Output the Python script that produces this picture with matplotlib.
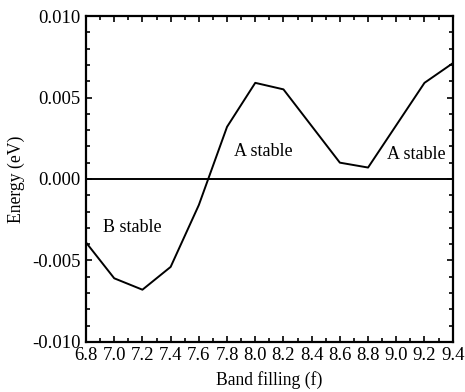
import matplotlib
matplotlib.use("Agg")
import matplotlib.pyplot as plt
from matplotlib.ticker import MultipleLocator, FormatStrFormatter

plt.rcParams['font.family'] = ['Liberation Serif', 'DejaVu Serif']

# band filling vs energy difference
filling = [6.8, 7.0, 7.2, 7.4, 7.6, 7.8, 8.0, 8.2, 8.6, 8.8, 9.2, 9.4]
energy = [-0.0039, -0.0061, -0.0068, -0.0054, -0.0016, 0.0032,
          0.0059, 0.0055, 0.0010, 0.0007, 0.0059, 0.0071]

labels = ["B stable", "A stable", "A stable"]
label_x = [7.13, 8.06, 9.14]
label_y = [-0.0030, 0.0017, 0.0015]

fig = plt.figure(figsize=(4.65, 3.92), dpi=100)
ax = fig.add_axes([0.185, 0.128, 0.7885, 0.831])

ax.plot(filling, energy, color='black', lw=1.4)
ax.axhline(0, color='black', lw=1.4)

for t, x, y in zip(labels, label_x, label_y):
    ax.text(x, y, t, ha='center', va='center', fontsize=13)

ax.set_xlim(6.8, 9.4)
ax.set_ylim(-0.010, 0.010)
ax.xaxis.set_major_locator(MultipleLocator(0.2))
ax.xaxis.set_minor_locator(MultipleLocator(0.1))
ax.yaxis.set_major_locator(MultipleLocator(0.005))
ax.yaxis.set_minor_locator(MultipleLocator(0.001))
ax.xaxis.set_major_formatter(FormatStrFormatter('%.1f'))
ax.yaxis.set_major_formatter(FormatStrFormatter('%.3f'))

ax.tick_params(which='both', direction='in', top=True, right=True,
               labelsize=13.5, width=1.2)
ax.tick_params(which='major', length=4)
ax.tick_params(which='minor', length=3)
ax.tick_params(axis='x', pad=4)
ax.tick_params(axis='y', pad=4)
for s in ax.spines.values():
    s.set_linewidth(1.6)

ax.set_xlabel("Band filling (f)", fontsize=12.7, labelpad=5)
ax.set_ylabel("Energy (eV)", fontsize=12.7, labelpad=5)

fig.savefig("out.png", dpi=100)
